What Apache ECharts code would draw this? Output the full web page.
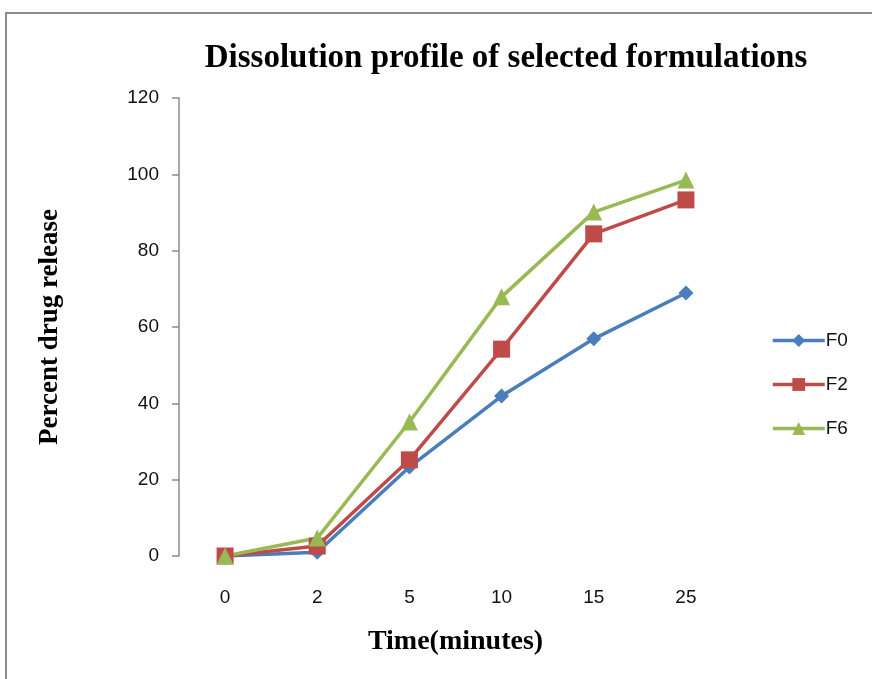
<!DOCTYPE html>
<html>
<head>
<meta charset="utf-8">
<script src="https://cdn.jsdelivr.net/npm/echarts@6/dist/echarts.min.js"></script>
<style>
html,body{margin:0;padding:0;background:#fff;}
#frame{position:absolute;left:5px;top:12px;width:900px;height:700px;border:2px solid #8c8c8c;box-sizing:border-box;}
#chart{position:absolute;left:0;top:0;width:872px;height:679px;}
</style>
</head>
<body>
<div id="frame"></div>
<div id="chart"></div>
<script>
// 时间点（分钟）
var categories = ['0', '2', '5', '10', '15', '25'];
var f0Data = [0, 1.0, 23.3, 41.9, 56.9, 68.9];
var f2Data = [0, 2.6, 25.2, 54.2, 84.4, 93.3];
var f6Data = [0, 4.7, 35.1, 67.9, 90.1, 98.5];
var yTicks = [0, 120, 20]; // min, max, interval

var chart = echarts.init(document.getElementById('chart'));

function lineSeries(name, data, color, symbol, size) {
    return {
        name: name,
        type: 'line',
        data: data,
        symbol: symbol,
        symbolSize: size,
        lineStyle: { color: color, width: 3.5 },
        itemStyle: { color: color },
        animation: false
    };
}

var option = {
    backgroundColor: 'transparent',
    title: {
        text: 'Dissolution profile of selected formulations',
        left: 501,
        top: 37,
        textAlign: 'center',
        textStyle: { fontFamily: 'Liberation Serif', fontWeight: 'bold', fontSize: 33, color: '#000' }
    },
    legend: {
        orient: 'vertical',
        left: 766,
        top: 326,
        itemWidth: 52,
        itemHeight: 16,
        itemGap: 25,
        lineStyle: { width: 3.5 },
        textStyle: { fontFamily: 'Liberation Sans', fontSize: 19, color: '#111', padding: [0, 0, 0, -4] },
        data: ['F0', 'F2', 'F6']
    },
    grid: { left: 179, right: 140, top: 98, bottom: 123 },
    xAxis: {
        type: 'category',
        data: categories,
        boundaryGap: true,
        name: 'Time(minutes)',
        nameLocation: 'middle',
        nameGap: 72,
        nameTextStyle: { fontFamily: 'Liberation Serif', fontWeight: 'bold', fontSize: 28, color: '#000' },
        axisLine: { show: false },
        axisTick: { show: false },
        axisLabel: { fontFamily: 'Liberation Sans', fontSize: 19, color: '#111', margin: 32 }
    },
    yAxis: {
        type: 'value',
        min: yTicks[0],
        max: yTicks[1],
        interval: yTicks[2],
        name: 'Percent drug release',
        nameLocation: 'middle',
        nameGap: 115,
        nameTextStyle: { fontFamily: 'Liberation Serif', fontWeight: 'bold', fontSize: 27, color: '#000' },
        axisLine: { show: true, lineStyle: { color: '#8c8c8c', width: 1.5 } },
        axisTick: { show: true, length: 7, lineStyle: { color: '#8c8c8c', width: 1.5 } },
        splitLine: { show: false },
        axisLabel: { fontFamily: 'Liberation Sans', fontSize: 19, color: '#111', margin: 20 }
    },
    series: [
        lineSeries('F0', f0Data, '#4a7ebb', 'diamond', 15),
        lineSeries('F2', f2Data, '#be4b48', 'rect', 17),
        lineSeries('F6', f6Data, '#98b954', 'triangle', 17)
    ]
};
chart.setOption(option);
</script>
</body>
</html>
